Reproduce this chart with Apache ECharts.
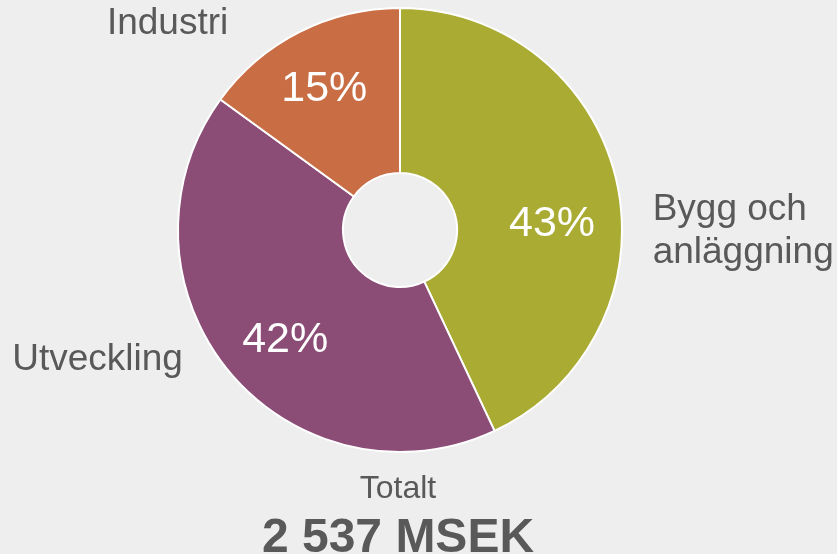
<!DOCTYPE html>
<html>
<head>
<meta charset="utf-8">
<script src="https://cdn.jsdelivr.net/npm/echarts@6/dist/echarts.min.js"></script>
<style>
html,body{margin:0;padding:0;background:#eeeeee;}
#chart{width:837px;height:554px;}
</style>
</head>
<body>
<div id="chart"></div>
<script>
var categories = ['Bygg och\nanläggning', 'Utveckling', 'Industri'];
var shares = [43, 42, 15];
var colors = ['#aaab33', '#8b4c76', '#c96e44'];
var totalCaption = 'Totalt';
var totalValue = '2 537 MSEK';

var FONT = '"Liberation Sans", Arial, sans-serif';
var innerOffsets = [[13, 25], [-5, 19], [-11, -14]];
var outerOffsets = [[31, 50], [-41, -12], [-66, -8]];

var data = categories.map(function (c, i) {
  return { name: c, value: shares[i], itemStyle: { color: colors[i] } };
});

var chart = echarts.init(document.getElementById('chart'), null, { renderer: 'canvas' });
chart.setOption({
  backgroundColor: '#eeeeee',
  animation: false,
  title: [
    { text: totalCaption, left: 393, top: 468, textAlign: 'center',
      textStyle: { fontFamily: FONT, fontSize: 32, fontWeight: 'normal', color: '#595959' } },
    { text: totalValue, left: 393, top: 510, textAlign: 'center',
      textStyle: { fontFamily: FONT, fontSize: 48, fontWeight: 'bold', color: '#595959' } }
  ],
  series: [
    {
      type: 'pie',
      center: [400, 230],
      radius: [57, 222],
      startAngle: 90,
      clockwise: true,
      silent: true,
      data: data,
      itemStyle: { borderColor: '#ffffff', borderWidth: 2 },
      label: {
        show: true, position: 'inside', formatter: '{c}%',
        fontFamily: FONT, fontSize: 43, color: '#ffffff'
      },
      labelLine: { show: false },
      labelLayout: function (p) {
        var o = innerOffsets[p.dataIndex];
        return { dx: o[0], dy: o[1] };
      }
    },
    {
      type: 'pie',
      center: [400, 230],
      radius: [57, 222],
      startAngle: 90,
      clockwise: true,
      silent: true,
      z: 1,
      data: data.map(function (d) { return { name: d.name, value: d.value }; }),
      itemStyle: { color: 'rgba(0,0,0,0)', borderWidth: 0 },
      label: {
        show: true, position: 'outside', formatter: '{b}',
        fontFamily: FONT, fontSize: 37, lineHeight: 43, color: '#595959'
      },
      labelLine: { show: false, length: 0, length2: 0 },
      labelLayout: function (p) {
        var o = outerOffsets[p.dataIndex];
        return { dx: o[0], dy: o[1] };
      }
    }
  ]
});
</script>
</body>
</html>
